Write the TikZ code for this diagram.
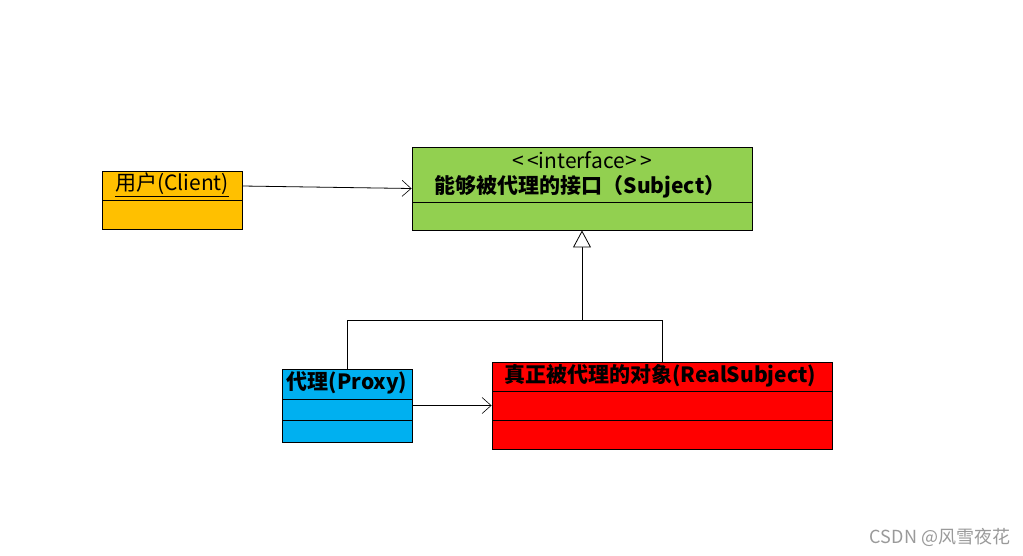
\documentclass[tikz,border=0pt]{standalone}
\usepackage{fontspec}
\setmainfont{Noto Sans CJK SC}
\usetikzlibrary{arrows.meta}
\definecolor{clientc}{HTML}{FFC000}
\definecolor{ifacec}{HTML}{92D050}
\definecolor{proxyc}{HTML}{00B0F0}
\definecolor{realc}{HTML}{FF0000}
\definecolor{wmc}{HTML}{9A9A9A}
\tikzset{
  classbox/.style={draw=black, line width=0.9pt, rectangle, inner sep=0pt},
  title/.style={inner sep=0pt, font=\fontsize{21}{23}\selectfont},
  btitle/.style={inner sep=0pt, font=\fontsize{21}{23}\selectfont\bfseries},
  assoc/.style={draw=black, line width=0.8pt, -{Straight Barb[length=9pt,width=16pt,line width=0.6pt]}},
  inh/.style={draw=black, line width=0.8pt, -{Triangle[open, length=17pt, width=18pt, fill=white, line width=0.8pt]}},
  link/.style={draw=black, line width=0.8pt},
  divider/.style={draw=black, line width=0.8pt}
}
\begin{document}
\begin{tikzpicture}[x=1pt,y=-1pt]
\useasboundingbox[fill=white] (0,0) rectangle (1023,555);

% Client
\node[classbox, fill=clientc, minimum width=140pt, minimum height=58pt] (client) at (172,200) {};
\draw[divider] (102,200) -- (242,200);
\node[title] (clientt) at (172,185) {\underline{用户(Client)}};

% Interface
\node[classbox, fill=ifacec, minimum width=340pt, minimum height=83pt] (iface) at (582,188.5) {};
\draw[divider] (412,202) -- (752,202);
\node[title] (ifacest) at (582,160) {{<}\,{<}interface{>}\,{>}};
\node[btitle] (ifacet) at (580,187) {能够被代理的接口（Subject）};

% Proxy
\node[classbox, fill=proxyc, minimum width=130pt, minimum height=73pt] (proxy) at (347,405.5) {};
\draw[divider] (282,399) -- (412,399);
\draw[divider] (282,420) -- (412,420);
\node[btitle] (proxyt) at (347,383) {代理(Proxy)};

% RealSubject
\node[classbox, fill=realc, minimum width=340pt, minimum height=87pt] (real) at (662,405.5) {};
\draw[divider] (492,391) -- (832,391);
\draw[divider] (492,420) -- (832,420);
\node[btitle] (realt) at (660,376) {真正被代理的对象(RealSubject)};

% connectors
\draw[assoc] ([yshift=14pt]client.east) -- (iface.west);
\draw[assoc] (proxy.east) -- (real.west);
\coordinate (j) at (582,320);
\draw[inh] (j) -- (iface.south);
\draw[link] (proxy.north) |- (j);
\draw[link] (real.north) |- (j);

% watermark
\node[inner sep=0pt, text=wmc, font=\fontsize{18}{20}\selectfont] (wm) at (940,537) {CSDN @风雪夜花};
\end{tikzpicture}
\end{document}
